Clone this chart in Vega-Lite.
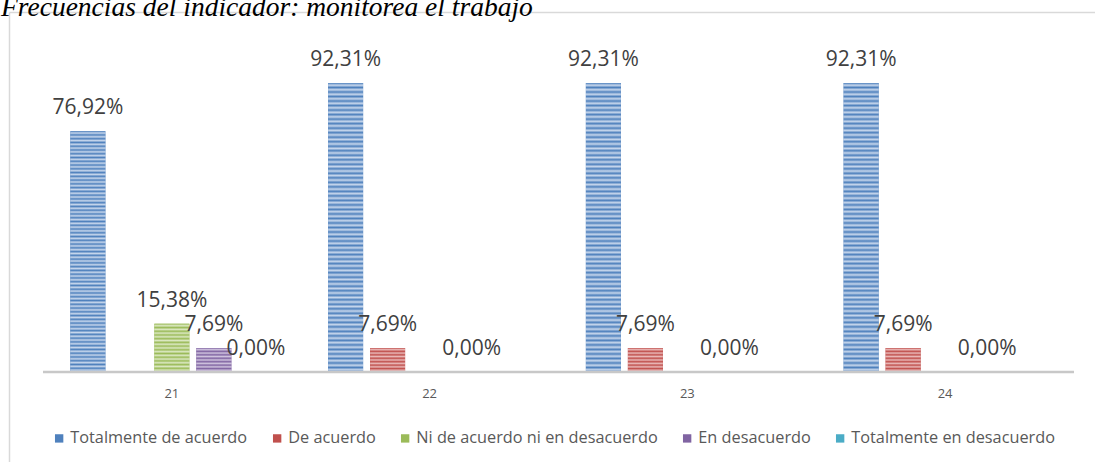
{
  "$schema": "https://vega.github.io/schema/vega-lite/v6.json",
  "width": 1086,
  "height": 450,
  "autosize": "none",
  "padding": {"left": 9, "top": 12, "right": 0, "bottom": 0},
  "background": "white",
  "config": {"view": {"stroke": null}},
  "title": {
    "text": "Frecuencias del indicador: monitorea el trabajo",
    "anchor": "start",
    "frame": "group",
    "font": "Liberation Serif",
    "fontStyle": "italic",
    "fontWeight": "normal",
    "fontSize": 27.5,
    "color": "#000000",
    "baseline": "alphabetic",
    "offset": -4,
    "dx": -8,
    "dy": 27
  },
  "data": {
    "values": [
      {"g": "21", "s": "Totalmente de acuerdo", "v": 76.92, "label": "76,92%"},
      {"g": "21", "s": "Ni de acuerdo ni en desacuerdo", "v": 15.38, "label": "15,38%"},
      {"g": "21", "s": "En desacuerdo", "v": 7.69, "label": "7,69%"},
      {"g": "21", "s": "Totalmente en desacuerdo", "v": 0, "label": "0,00%"},
      {"g": "22", "s": "Totalmente de acuerdo", "v": 92.31, "label": "92,31%"},
      {"g": "22", "s": "De acuerdo", "v": 7.69, "label": "7,69%"},
      {"g": "22", "s": "En desacuerdo", "v": 0, "label": "0,00%"},
      {"g": "23", "s": "Totalmente de acuerdo", "v": 92.31, "label": "92,31%"},
      {"g": "23", "s": "De acuerdo", "v": 7.69, "label": "7,69%"},
      {"g": "23", "s": "En desacuerdo", "v": 0, "label": "0,00%"},
      {"g": "24", "s": "Totalmente de acuerdo", "v": 92.31, "label": "92,31%"},
      {"g": "24", "s": "De acuerdo", "v": 7.69, "label": "7,69%"},
      {"g": "24", "s": "En desacuerdo", "v": 0, "label": "0,00%"}
    ]
  },
  "layer": [
    {
      "mark": {"type": "bar"},
      "encoding": {
        "x": {
          "field": "g", "type": "nominal",
          "scale": {"domain": ["21", "22", "23", "24"], "paddingInner": 0, "paddingOuter": 0.1067, "align": 0.618},
          "axis": {"orient": "bottom", "offset": -90, "domain": false, "ticks": false, "labelPadding": 15, "labelFont": "Open Sans", "labelFontSize": 13, "labelColor": "#595959", "labelAngle": 0, "title": null, "grid": false}
        },
        "xOffset": {
          "field": "s", "type": "nominal",
          "scale": {"domain": ["Totalmente de acuerdo", "De acuerdo", "Ni de acuerdo ni en desacuerdo", "En desacuerdo", "Totalmente en desacuerdo"], "paddingInner": 0.167, "paddingOuter": 0.652}
        },
        "y": {
          "field": "v", "type": "quantitative",
          "scale": {"domain": [-28.74, 114.98], "nice": false, "zero": false},
          "axis": {"orient": "left", "domain": true, "domainColor": "#d9d9d9", "domainWidth": 1.5, "ticks": false, "labels": false, "grid": true, "values": [114.98], "gridColor": "#d9d9d9", "gridWidth": 1.5, "title": null}
        },
        "y2": {"datum": 0},
        "color": {
          "field": "s", "type": "nominal",
          "scale": {"domain": ["Totalmente de acuerdo", "De acuerdo", "Ni de acuerdo ni en desacuerdo", "En desacuerdo", "Totalmente en desacuerdo"], "range": ["#4f81bd", "#c0504d", "#9bbb59", "#8064a2", "#4bacc6"]},
          "legend": {"orient": "none", "legendX": 42, "legendY": 418, "direction": "horizontal", "columns": 5, "title": null, "symbolType": "square", "symbolSize": 70, "symbolStrokeWidth": 0, "labelFont": "Open Sans", "labelFontSize": 16.3, "labelColor": "#595959", "labelLimit": 0, "columnPadding": 21, "labelOffset": 3}
        }
      }
    },
    {
      "mark": {"type": "bar"},
      "encoding": {
        "x": {"field": "g", "type": "nominal"},
        "xOffset": {"field": "s", "type": "nominal"},
        "y": {"field": "v", "type": "quantitative"},
        "y2": {"datum": 0},
        "fill": {
          "condition": [
            {"test": "datum.s === 'Totalmente de acuerdo'", "value": {"gradient": "linear", "x1": 0, "y1": 0, "x2": 0, "y2": 1, "stops": [
              {"offset": 0, "color": "#4f81bd"}, {"offset": 0.0078, "color": "#c6d6ec"}, {"offset": 0.0156, "color": "#4f81bd"}, {"offset": 0.0234, "color": "#c6d6ec"},
              {"offset": 0.0313, "color": "#4f81bd"}, {"offset": 0.0391, "color": "#c6d6ec"}, {"offset": 0.0469, "color": "#4f81bd"}, {"offset": 0.0547, "color": "#c6d6ec"},
              {"offset": 0.0625, "color": "#4f81bd"}, {"offset": 0.0703, "color": "#c6d6ec"}, {"offset": 0.0781, "color": "#4f81bd"}, {"offset": 0.0859, "color": "#c6d6ec"},
              {"offset": 0.0938, "color": "#4f81bd"}, {"offset": 0.1016, "color": "#c6d6ec"}, {"offset": 0.1094, "color": "#4f81bd"}, {"offset": 0.1172, "color": "#c6d6ec"},
              {"offset": 0.125, "color": "#4f81bd"}, {"offset": 0.1328, "color": "#c6d6ec"}, {"offset": 0.1406, "color": "#4f81bd"}, {"offset": 0.1484, "color": "#c6d6ec"},
              {"offset": 0.1563, "color": "#4f81bd"}, {"offset": 0.1641, "color": "#c6d6ec"}, {"offset": 0.1719, "color": "#4f81bd"}, {"offset": 0.1797, "color": "#c6d6ec"},
              {"offset": 0.1875, "color": "#4f81bd"}, {"offset": 0.1953, "color": "#c6d6ec"}, {"offset": 0.2031, "color": "#4f81bd"}, {"offset": 0.2109, "color": "#c6d6ec"},
              {"offset": 0.2188, "color": "#4f81bd"}, {"offset": 0.2266, "color": "#c6d6ec"}, {"offset": 0.2344, "color": "#4f81bd"}, {"offset": 0.2422, "color": "#c6d6ec"},
              {"offset": 0.25, "color": "#4f81bd"}, {"offset": 0.2578, "color": "#c6d6ec"}, {"offset": 0.2656, "color": "#4f81bd"}, {"offset": 0.2734, "color": "#c6d6ec"},
              {"offset": 0.2813, "color": "#4f81bd"}, {"offset": 0.2891, "color": "#c6d6ec"}, {"offset": 0.2969, "color": "#4f81bd"}, {"offset": 0.3047, "color": "#c6d6ec"},
              {"offset": 0.3125, "color": "#4f81bd"}, {"offset": 0.3203, "color": "#c6d6ec"}, {"offset": 0.3281, "color": "#4f81bd"}, {"offset": 0.3359, "color": "#c6d6ec"},
              {"offset": 0.3438, "color": "#4f81bd"}, {"offset": 0.3516, "color": "#c6d6ec"}, {"offset": 0.3594, "color": "#4f81bd"}, {"offset": 0.3672, "color": "#c6d6ec"},
              {"offset": 0.375, "color": "#4f81bd"}, {"offset": 0.3828, "color": "#c6d6ec"}, {"offset": 0.3906, "color": "#4f81bd"}, {"offset": 0.3984, "color": "#c6d6ec"},
              {"offset": 0.4063, "color": "#4f81bd"}, {"offset": 0.4141, "color": "#c6d6ec"}, {"offset": 0.4219, "color": "#4f81bd"}, {"offset": 0.4297, "color": "#c6d6ec"},
              {"offset": 0.4375, "color": "#4f81bd"}, {"offset": 0.4453, "color": "#c6d6ec"}, {"offset": 0.4531, "color": "#4f81bd"}, {"offset": 0.4609, "color": "#c6d6ec"},
              {"offset": 0.4688, "color": "#4f81bd"}, {"offset": 0.4766, "color": "#c6d6ec"}, {"offset": 0.4844, "color": "#4f81bd"}, {"offset": 0.4922, "color": "#c6d6ec"},
              {"offset": 0.5, "color": "#4f81bd"}, {"offset": 0.5078, "color": "#c6d6ec"}, {"offset": 0.5156, "color": "#4f81bd"}, {"offset": 0.5234, "color": "#c6d6ec"},
              {"offset": 0.5313, "color": "#4f81bd"}, {"offset": 0.5391, "color": "#c6d6ec"}, {"offset": 0.5469, "color": "#4f81bd"}, {"offset": 0.5547, "color": "#c6d6ec"},
              {"offset": 0.5625, "color": "#4f81bd"}, {"offset": 0.5703, "color": "#c6d6ec"}, {"offset": 0.5781, "color": "#4f81bd"}, {"offset": 0.5859, "color": "#c6d6ec"},
              {"offset": 0.5938, "color": "#4f81bd"}, {"offset": 0.6016, "color": "#c6d6ec"}, {"offset": 0.6094, "color": "#4f81bd"}, {"offset": 0.6172, "color": "#c6d6ec"},
              {"offset": 0.625, "color": "#4f81bd"}, {"offset": 0.6328, "color": "#c6d6ec"}, {"offset": 0.6406, "color": "#4f81bd"}, {"offset": 0.6484, "color": "#c6d6ec"},
              {"offset": 0.6563, "color": "#4f81bd"}, {"offset": 0.6641, "color": "#c6d6ec"}, {"offset": 0.6719, "color": "#4f81bd"}, {"offset": 0.6797, "color": "#c6d6ec"},
              {"offset": 0.6875, "color": "#4f81bd"}, {"offset": 0.6953, "color": "#c6d6ec"}, {"offset": 0.7031, "color": "#4f81bd"}, {"offset": 0.7109, "color": "#c6d6ec"},
              {"offset": 0.7188, "color": "#4f81bd"}, {"offset": 0.7266, "color": "#c6d6ec"}, {"offset": 0.7344, "color": "#4f81bd"}, {"offset": 0.7422, "color": "#c6d6ec"},
              {"offset": 0.75, "color": "#4f81bd"}, {"offset": 0.7578, "color": "#c6d6ec"}, {"offset": 0.7656, "color": "#4f81bd"}, {"offset": 0.7734, "color": "#c6d6ec"},
              {"offset": 0.7813, "color": "#4f81bd"}, {"offset": 0.7891, "color": "#c6d6ec"}, {"offset": 0.7969, "color": "#4f81bd"}, {"offset": 0.8047, "color": "#c6d6ec"},
              {"offset": 0.8125, "color": "#4f81bd"}, {"offset": 0.8203, "color": "#c6d6ec"}, {"offset": 0.8281, "color": "#4f81bd"}, {"offset": 0.8359, "color": "#c6d6ec"},
              {"offset": 0.8438, "color": "#4f81bd"}, {"offset": 0.8516, "color": "#c6d6ec"}, {"offset": 0.8594, "color": "#4f81bd"}, {"offset": 0.8672, "color": "#c6d6ec"},
              {"offset": 0.875, "color": "#4f81bd"}, {"offset": 0.8828, "color": "#c6d6ec"}, {"offset": 0.8906, "color": "#4f81bd"}, {"offset": 0.8984, "color": "#c6d6ec"},
              {"offset": 0.9063, "color": "#4f81bd"}, {"offset": 0.9141, "color": "#c6d6ec"}, {"offset": 0.9219, "color": "#4f81bd"}, {"offset": 0.9297, "color": "#c6d6ec"},
              {"offset": 0.9375, "color": "#4f81bd"}, {"offset": 0.9453, "color": "#c6d6ec"}, {"offset": 0.9531, "color": "#4f81bd"}, {"offset": 0.9609, "color": "#c6d6ec"},
              {"offset": 0.9688, "color": "#4f81bd"}, {"offset": 0.9766, "color": "#c6d6ec"}, {"offset": 0.9844, "color": "#4f81bd"}, {"offset": 0.9922, "color": "#c6d6ec"},
              {"offset": 1, "color": "#4f81bd"}
            ]}},
            {"test": "datum.s === 'De acuerdo'", "value": {"gradient": "linear", "x1": 0, "y1": 0, "x2": 0, "y2": 1, "stops": [
              {"offset": 0, "color": "#c0504d"}, {"offset": 0.0714, "color": "#eab9b8"}, {"offset": 0.1429, "color": "#c0504d"}, {"offset": 0.2143, "color": "#eab9b8"},
              {"offset": 0.2857, "color": "#c0504d"}, {"offset": 0.3571, "color": "#eab9b8"}, {"offset": 0.4286, "color": "#c0504d"}, {"offset": 0.5, "color": "#eab9b8"},
              {"offset": 0.5714, "color": "#c0504d"}, {"offset": 0.6429, "color": "#eab9b8"}, {"offset": 0.7143, "color": "#c0504d"}, {"offset": 0.7857, "color": "#eab9b8"},
              {"offset": 0.8571, "color": "#c0504d"}, {"offset": 0.9286, "color": "#eab9b8"}, {"offset": 1, "color": "#c0504d"}
            ]}},
            {"test": "datum.s === 'Ni de acuerdo ni en desacuerdo'", "value": {"gradient": "linear", "x1": 0, "y1": 0, "x2": 0, "y2": 1, "stops": [
              {"offset": 0, "color": "#9bbb59"}, {"offset": 0.0385, "color": "#dbe8c2"}, {"offset": 0.0769, "color": "#9bbb59"}, {"offset": 0.1154, "color": "#dbe8c2"},
              {"offset": 0.1538, "color": "#9bbb59"}, {"offset": 0.1923, "color": "#dbe8c2"}, {"offset": 0.2308, "color": "#9bbb59"}, {"offset": 0.2692, "color": "#dbe8c2"},
              {"offset": 0.3077, "color": "#9bbb59"}, {"offset": 0.3462, "color": "#dbe8c2"}, {"offset": 0.3846, "color": "#9bbb59"}, {"offset": 0.4231, "color": "#dbe8c2"},
              {"offset": 0.4615, "color": "#9bbb59"}, {"offset": 0.5, "color": "#dbe8c2"}, {"offset": 0.5385, "color": "#9bbb59"}, {"offset": 0.5769, "color": "#dbe8c2"},
              {"offset": 0.6154, "color": "#9bbb59"}, {"offset": 0.6538, "color": "#dbe8c2"}, {"offset": 0.6923, "color": "#9bbb59"}, {"offset": 0.7308, "color": "#dbe8c2"},
              {"offset": 0.7692, "color": "#9bbb59"}, {"offset": 0.8077, "color": "#dbe8c2"}, {"offset": 0.8462, "color": "#9bbb59"}, {"offset": 0.8846, "color": "#dbe8c2"},
              {"offset": 0.9231, "color": "#9bbb59"}, {"offset": 0.9615, "color": "#dbe8c2"}, {"offset": 1, "color": "#9bbb59"}
            ]}},
            {"test": "datum.s === 'En desacuerdo'", "value": {"gradient": "linear", "x1": 0, "y1": 0, "x2": 0, "y2": 1, "stops": [
              {"offset": 0, "color": "#8064a2"}, {"offset": 0.0714, "color": "#d0c4df"}, {"offset": 0.1429, "color": "#8064a2"}, {"offset": 0.2143, "color": "#d0c4df"},
              {"offset": 0.2857, "color": "#8064a2"}, {"offset": 0.3571, "color": "#d0c4df"}, {"offset": 0.4286, "color": "#8064a2"}, {"offset": 0.5, "color": "#d0c4df"},
              {"offset": 0.5714, "color": "#8064a2"}, {"offset": 0.6429, "color": "#d0c4df"}, {"offset": 0.7143, "color": "#8064a2"}, {"offset": 0.7857, "color": "#d0c4df"},
              {"offset": 0.8571, "color": "#8064a2"}, {"offset": 0.9286, "color": "#d0c4df"}, {"offset": 1, "color": "#8064a2"}
            ]}}
          ],
          "value": "#4bacc6"
        }
      }
    },
    {
      "data": {"values": [{}]},
      "mark": {"type": "rule", "color": "#c8c8c8", "strokeWidth": 2.5},
      "encoding": {
        "x": {"datum": "21", "type": "nominal", "bandPosition": 0},
        "x2": {"datum": "24", "bandPosition": 1},
        "y": {"datum": 0, "type": "quantitative"}
      }
    },
    {
      "mark": {"type": "text", "dy": -23, "baseline": "middle", "align": "center", "font": "Open Sans", "fontSize": 21, "color": "#404040"},
      "encoding": {
        "x": {"field": "g", "type": "nominal"},
        "xOffset": {"field": "s", "type": "nominal"},
        "y": {"field": "v", "type": "quantitative"},
        "text": {"field": "label"}
      }
    }
  ]
}
